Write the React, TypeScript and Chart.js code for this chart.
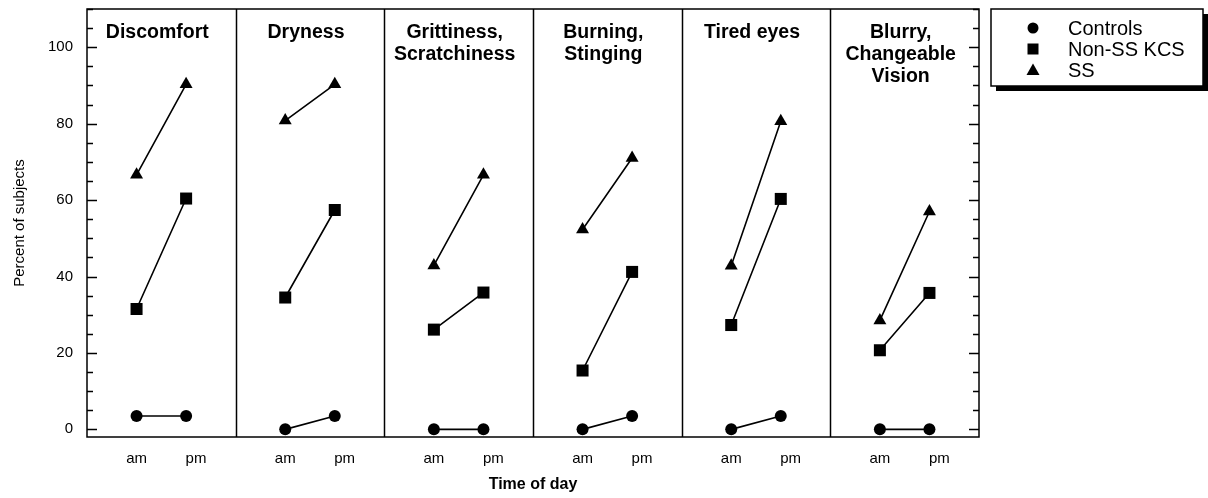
import React, { useEffect, useRef } from 'react';
import { Chart, registerables } from 'chart.js';

Chart.register(...registerables);

// ---- data ----
const panelTitles: string[][] = [
  ['Discomfort'],
  ['Dryness'],
  ['Grittiness,', 'Scratchiness'],
  ['Burning,', 'Stinging'],
  ['Tired eyes'],
  ['Blurry,', 'Changeable', 'Vision'],
];
const timeLabels = ['am', 'pm'];
const seriesNames = ['Controls', 'Non-SS KCS', 'SS'];
// [am, pm] per panel
const controls = [[3.5, 3.5], [0, 3.5], [0, 0], [0, 3.5], [0, 3.5], [0, 0]];
const nonSS = [[31.5, 60.4], [34.5, 57.4], [26.1, 35.8], [15.4, 41.2], [27.3, 60.3], [20.7, 35.7]];
const ss = [[66.6, 90.3], [80.8, 90.3], [42.9, 66.6], [52.3, 71.0], [42.8, 80.6], [28.5, 57.0]];
const yTickValues = [0, 20, 40, 60, 80, 100];

const FONT = "'Liberation Sans', Arial, Helvetica, sans-serif";

function buildSeries(vals: number[][]) {
  const pts: { x: number; y: number | null }[] = [];
  vals.forEach((pair, i) => {
    pts.push({ x: 3 * i + 1, y: pair[0] });
    pts.push({ x: 3 * i + 2, y: pair[1] });
    pts.push({ x: 3 * i + 2.5, y: null });
  });
  return pts;
}

const decorPlugin = {
  id: 'decor',
  afterDraw(chart: any) {
    const { ctx, chartArea } = chart;
    const { left, top, right, bottom } = chartArea;
    const xs = chart.scales.x;
    const ys = chart.scales.y;
    ctx.save();
    ctx.strokeStyle = '#000';
    ctx.fillStyle = '#000';
    ctx.lineWidth = 1.5;
    // frame
    ctx.strokeRect(left, top, right - left, bottom - top);
    // separators
    ctx.beginPath();
    for (let i = 1; i < panelTitles.length; i++) {
      const px = Math.round(xs.getPixelForValue(3 * i)) + 0.5;
      ctx.moveTo(px, top);
      ctx.lineTo(px, bottom);
    }
    ctx.stroke();
    // inward ticks both sides
    ctx.beginPath();
    for (let v = 0; v <= 110; v += 5) {
      const py = Math.round(ys.getPixelForValue(v)) + 0.5;
      const len = v % 20 === 0 ? 10 : 6;
      ctx.moveTo(left, py);
      ctx.lineTo(left + len, py);
      ctx.moveTo(right, py);
      ctx.lineTo(right - len, py);
    }
    ctx.stroke();
    // panel titles
    ctx.font = `bold 19.5px ${FONT}`;
    ctx.textAlign = 'center';
    ctx.textBaseline = 'middle';
    panelTitles.forEach((lines, i) => {
      const cx = xs.getPixelForValue(3 * i + 1.5) - 4;
      lines.forEach((t, j) => {
        ctx.fillText(t, cx, top + 24 + j * 22);
      });
    });
    // legend
    const bx = right + 12;
    const by = top;
    const bw = 212;
    const bh = 77;
    ctx.fillRect(bx + 5, by + 5, bw, bh);
    ctx.fillStyle = '#fff';
    ctx.fillRect(bx, by, bw, bh);
    ctx.strokeRect(bx, by, bw, bh);
    ctx.fillStyle = '#000';
    ctx.font = `20px ${FONT}`;
    ctx.textAlign = 'left';
    seriesNames.forEach((name, k) => {
      const cy = by + 19 + k * 21;
      const mx = bx + 42;
      ctx.beginPath();
      if (k === 0) {
        ctx.arc(mx, cy, 5.5, 0, Math.PI * 2);
      } else if (k === 1) {
        ctx.rect(mx - 5.5, cy - 5.5, 11, 11);
      } else {
        ctx.moveTo(mx, cy - 6.5);
        ctx.lineTo(mx + 6.5, cy + 5);
        ctx.lineTo(mx - 6.5, cy + 5);
        ctx.closePath();
      }
      ctx.fill();
      ctx.fillText(name, bx + 77, cy + 1);
    });
    ctx.restore();
  },
};

export default function App() {
  const ref = useRef<HTMLCanvasElement | null>(null);
  useEffect(() => {
    document.body.style.margin = '0';
    const canvas = ref.current;
    if (!canvas) return;
    const mk = (label: string, vals: number[][], style: string, r: number) => ({
      label,
      data: buildSeries(vals),
      borderColor: '#000',
      backgroundColor: '#000',
      borderWidth: 1.6,
      pointStyle: style,
      pointRadius: r,
      pointHoverRadius: r,
      pointBorderWidth: 0,
      pointBackgroundColor: '#000',
      spanGaps: false,
      tension: 0,
      fill: false,
    });
    const chart = new Chart(canvas, {
      type: 'line',
      data: {
        datasets: [
          mk(seriesNames[0], controls, 'circle', 6),
          mk(seriesNames[1], nonSS, 'rect', 8.5),
          mk(seriesNames[2], ss, 'triangle', 7.5),
        ] as any,
      },
      options: {
        animation: false,
        responsive: false,
        devicePixelRatio: 1,
        layout: { padding: { top: 9, right: 229, left: 0, bottom: 0 } },
        plugins: {
          legend: { display: false },
          tooltip: { enabled: false },
        },
        scales: {
          x: {
            type: 'linear',
            min: 0,
            max: 18,
            grid: { display: false, drawTicks: false },
            border: { display: false },
            afterBuildTicks: (scale: any) => {
              const t: { value: number }[] = [];
              panelTitles.forEach((_, i) => {
                t.push({ value: 3 * i + 1 });
                t.push({ value: 3 * i + 2.2 });
              });
              scale.ticks = t;
            },
            afterFit: (scale: any) => {
              scale.height = 61;
              scale.paddingLeft = 0;
              scale.paddingRight = 0;
            },
            ticks: {
              autoSkip: false,
              maxRotation: 0,
              padding: 13,
              color: '#000',
              font: { family: FONT, size: 15 },
              callback: (_v: any, idx: number) => timeLabels[idx % 2],
            },
            title: {
              display: true,
              text: 'Time of day',
              color: '#000',
              font: { family: FONT, size: 16, weight: 'bold' },
              padding: { top: 0, bottom: 4 },
            },
          },
          y: {
            type: 'linear',
            min: -2,
            max: 110,
            grid: { display: false, drawTicks: false },
            border: { display: false },
            afterBuildTicks: (scale: any) => {
              scale.ticks = yTickValues.map((v) => ({ value: v }));
            },
            afterFit: (scale: any) => {
              scale.width = 87;
              scale.paddingTop = 0;
              scale.paddingBottom = 0;
            },
            ticks: {
              padding: 14,
              color: '#000',
              font: { family: FONT, size: 15 },
              callback: (v: any) => String(v),
            },
            title: {
              display: true,
              text: 'Percent of subjects',
              color: '#000',
              font: { family: FONT, size: 15 },
              padding: { top: 11, bottom: 0 },
            },
          },
        },
      },
      plugins: [decorPlugin],
    } as any);
    return () => chart.destroy();
  }, []);
  return (
    <canvas
      ref={ref}
      width={1208}
      height={498}
      style={{ display: 'block', width: '1208px', height: '498px' }}
    />
  );
}
